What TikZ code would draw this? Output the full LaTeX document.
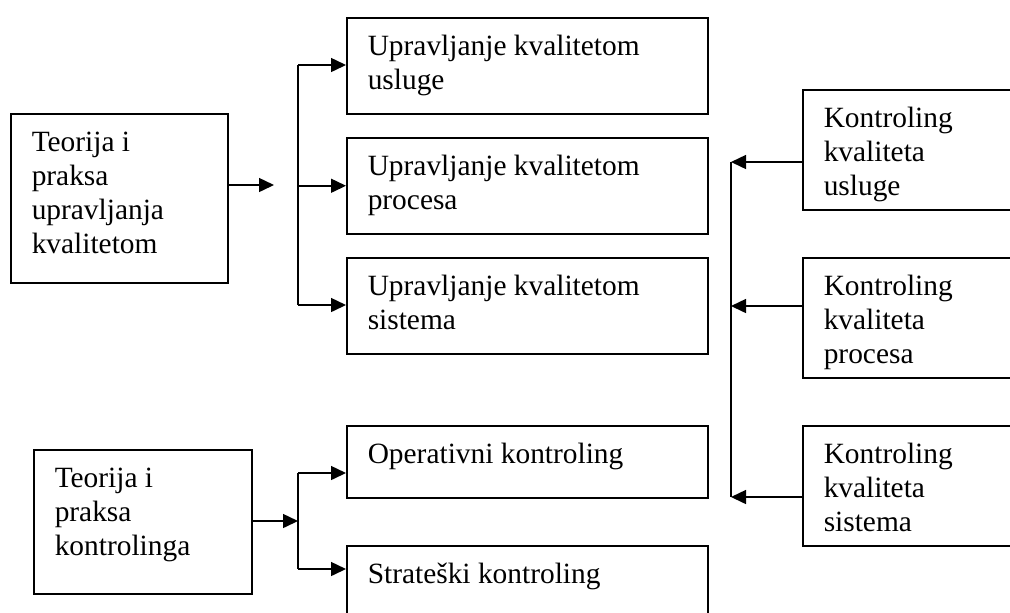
\documentclass[tikz,border=0pt]{standalone}
\usepackage{fontspec}
\setmainfont{Liberation Serif}
\usetikzlibrary{arrows.meta}

% text in a box: width, height, lines
\newcommand{\boxtext}[3]{\parbox[c][#2][t]{#1}{\raggedright\strut#3}}

\tikzset{
  box/.style={draw=black,line width=0.75pt,anchor=north west,inner xsep=10.5pt,inner ysep=7pt,
    font=\fontsize{14.7pt}{17pt}\selectfont},
  arr/.style={black,line width=0.75pt,-{Triangle[length=7.5pt,width=7pt]}},
  bar/.style={black,line width=0.75pt}
}

\begin{document}
\begin{tikzpicture}[x=0.5pt,y=-0.5pt]
\useasboundingbox (0,0) rectangle (1010,612);
\clip (0,0) rectangle (1010,612);

% quality management
\node[box] (tq) at (10,113) {\boxtext{87.5pt}{70.5pt}{Teorija i\\praksa\\upravljanja\\kvalitetom}};
\node[box] (uu) at (346,17) {\boxtext{159.5pt}{34pt}{Upravljanje kvalitetom\\usluge}};
\node[box] (up) at (346,137) {\boxtext{159.5pt}{34pt}{Upravljanje kvalitetom\\procesa}};
\node[box] (us) at (346,257) {\boxtext{159.5pt}{34pt}{Upravljanje kvalitetom\\sistema}};

% controlling
\node[box] (kk) at (33,449) {\boxtext{88pt}{58pt}{Teorija i\\praksa\\kontrolinga}};
\node[box] (ok) at (346,425) {\boxtext{159.5pt}{22pt}{Operativni kontroling}};
\node[box] (sk) at (346,545) {\boxtext{159.5pt}{26pt}{Strateški kontroling}};

% quality controlling
\node[box] (ku) at (802,89) {\boxtext{85.5pt}{46pt}{Kontroling\\kvaliteta\\usluge}};
\node[box] (kp) at (802,257) {\boxtext{85.5pt}{46pt}{Kontroling\\kvaliteta\\procesa}};
\node[box] (ks) at (802,425) {\boxtext{85.5pt}{46pt}{Kontroling\\kvaliteta\\sistema}};

\coordinate (q1) at (274,185);
\coordinate (qtop) at (298,65);
\coordinate (qbot) at (298,305);
\draw[arr] (tq.east |- q1) -- (q1);
\draw[bar] (qtop) -- (qbot);
\draw[arr] (qtop) -- (qtop -| uu.west);
\draw[arr] (qtop |- up.west) -- (up.west);
\draw[arr] (qbot) -- (qbot -| us.west);

\coordinate (c1) at (298,521);
\coordinate (ctop) at (298,473);
\coordinate (cbot) at (298,569);
\draw[arr] (c1 -| kk.east) -- (c1);
\draw[bar] (ctop) -- (cbot);
\draw[arr] (ctop) -- (ctop -| ok.west);
\draw[arr] (cbot) -- (cbot -| sk.west);

\coordinate (r1) at (731,162);
\coordinate (r2) at (731,306);
\coordinate (r3) at (731,497);
\draw[bar] (r1) -- (r3);
\draw[arr] (r1 -| ku.west) -- (r1);
\draw[arr] (r2 -| kp.west) -- (r2);
\draw[arr] (r3 -| ks.west) -- (r3);
\end{tikzpicture}
\end{document}
